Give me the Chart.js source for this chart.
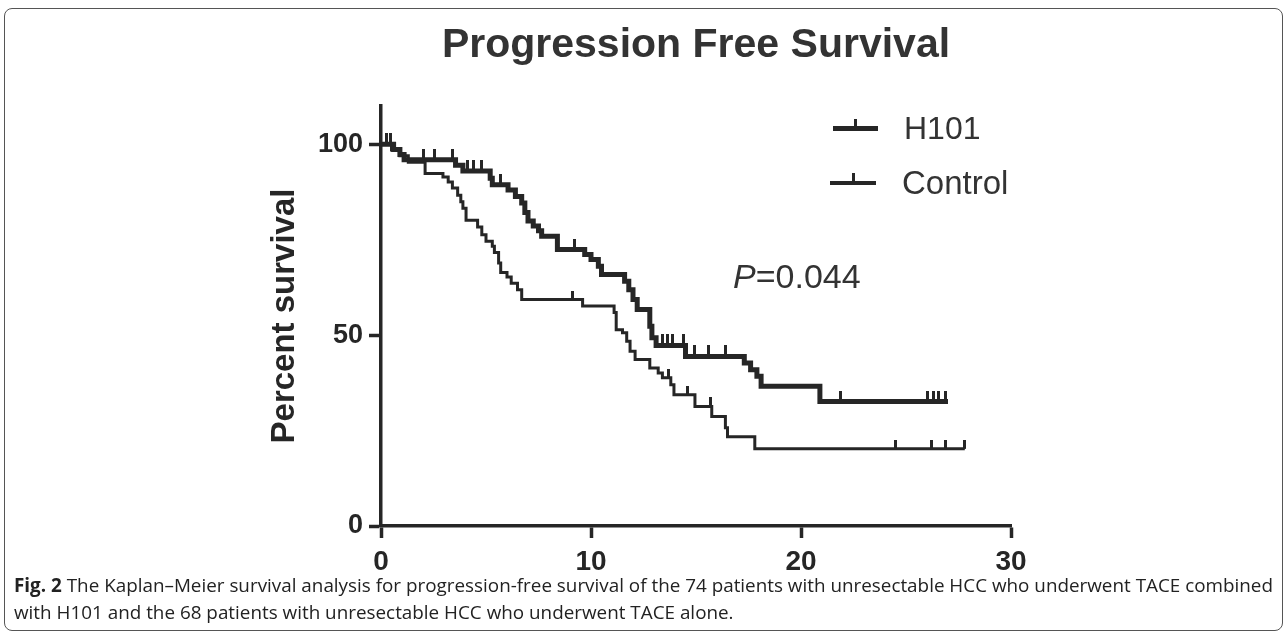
<!DOCTYPE html>
<html>
<head>
<meta charset="utf-8">
<script src="https://cdn.jsdelivr.net/npm/chart.js@4.4.1/dist/chart.umd.min.js"></script>
<style>
  body { margin: 0; width: 1288px; height: 639px; overflow: hidden; position: relative; background: #fff;
         font-family: "Liberation Sans", Arial, sans-serif; color: #262626; }
  #frame { position: absolute; left: 4px; top: 8px; width: 1279px; height: 623px; box-sizing: border-box;
           border: 1.5px solid #555; border-radius: 8px; }
  #plot { position: absolute; left: 0; top: 0; }
  #title { position: absolute; left: 0; top: 23px; width: 1392px; text-align: center;
           font-size: 41px; line-height: 41px; font-weight: bold; color: #333; }
  .lg { position: absolute; background: #262626; }
  .lgtext { position: absolute; font-size: 32px; line-height: 32px; color: #333; }
  #pval { position: absolute; left: 733px; top: 259px; font-size: 34px; line-height: 34px; color: #333; }
  #caption { position: absolute; left: 14px; top: 572px; font-family: "Open Sans", sans-serif;
             font-size: 19px; line-height: 27px; color: #222; white-space: nowrap; }
  #caption div { transform-origin: 0 50%; }
</style>
</head>
<body>
<div id="frame"></div>
<canvas id="plot" width="1288" height="600"></canvas>
<div id="title">Progression Free Survival</div>

<div class="lg" style="left:833px;top:126px;width:45px;height:5px"></div>
<div class="lg" style="left:854px;top:119px;width:3px;height:8px"></div>
<div class="lgtext" style="left:904px;top:112px">H101</div>
<div class="lg" style="left:830px;top:181px;width:46px;height:3.5px"></div>
<div class="lg" style="left:852px;top:173px;width:3px;height:9px"></div>
<div class="lgtext" style="left:902px;top:167px;font-size:33px">Control</div>

<div id="pval"><i>P</i>=0.044</div>

<div id="caption">
  <div id="cap1"><b>Fig. 2</b> The Kaplan–Meier survival analysis for progression-free survival of the 74 patients with unresectable HCC who underwent TACE combined</div>
  <div id="cap2">with H101 and the 68 patients with unresectable HCC who underwent TACE alone.</div>
</div>

<script>
// Kaplan-Meier steps (months, percent surviving after each drop)
const h101Months   = [0, 0.6, 0.9, 1.1, 3.55, 3.9, 5.2, 5.3, 6.05, 6.4, 6.7, 6.85, 7.0, 7.25, 7.5, 7.65,
                      8.4, 9.7, 10.0, 10.35, 10.5, 11.6, 11.8, 12.0, 12.2, 12.8, 12.9, 13.1, 14.5,
                      17.3, 17.6, 17.9, 18.1, 20.9, 27.0];
const h101Survival = [100, 98.6, 97.3, 95.9, 94.5, 93.0, 91.1, 89.4, 88.0, 86.3, 84.6, 82.1, 79.9, 78.6, 77.3, 75.9,
                      72.4, 71.1, 69.8, 68.0, 65.9, 64.1, 61.9, 59.3, 56.7, 52.3, 49.3, 47.3, 44.4,
                      42.7, 40.9, 39.2, 36.6, 32.6, 32.6];
const h101Censored = [0.25, 0.45, 2.0, 2.56, 3.4, 4.1, 4.4, 4.8, 5.7, 6.9, 9.2, 13.4, 13.65, 13.9, 14.4,
                      14.95, 15.6, 16.4, 21.9, 26.0, 26.3, 26.55, 26.9];

const controlMonths   = [0, 0.5, 0.9, 1.3, 2.1, 2.95, 3.2, 3.4, 3.65, 3.8, 3.9, 4.05, 4.6, 4.8, 5.0, 5.3, 5.4,
                         5.6, 5.7, 6.0, 6.2, 6.5, 6.7, 9.6, 11.1, 11.2, 11.5, 11.7, 11.86, 12.1, 12.8, 13.2,
                         13.4, 13.8, 13.95, 14.95, 15.75, 16.4, 16.5, 17.8, 27.8];
const controlSurvival = [100, 98.5, 97.0, 95.3, 92.3, 91.4, 90.1, 88.5, 86.6, 84.9, 83.2, 80.1, 78.3, 76.3, 74.6, 73.3, 71.6,
                         68.9, 66.4, 65.2, 63.6, 61.9, 59.3, 57.6, 55.9, 51.4, 50.6, 48.4, 45.8, 43.6, 41.4, 40.1,
                         38.8, 37.0, 34.4, 31.3, 28.7, 25.7, 23.4, 20.2, 20.2];
const controlCensored = [2.0, 9.1, 13.7, 14.6, 15.7, 24.5, 26.2, 26.9, 27.8];

const xTicks = [0, 10, 20, 30];
const yTicks = [0, 50, 100];

const ink = '#262626';

function stepValue(months, surv, t) {
  let v = surv[0];
  for (let i = 0; i < months.length; i++) {
    if (months[i] <= t) v = surv[i];
  }
  return v;
}

function tickMark(w, h) {
  const c = document.createElement('canvas');
  c.width = w;
  c.height = h * 2;
  const g = c.getContext('2d');
  g.fillStyle = ink;
  g.fillRect(0, 0, w, h);
  return c;
}

const h101Line = h101Months.map((m, i) => ({ x: m, y: h101Survival[i] }));
const controlLine = controlMonths.map((m, i) => ({ x: m, y: controlSurvival[i] }));
const h101Ticks = h101Censored.map(m => ({ x: m, y: stepValue(h101Months, h101Survival, m) }));
const controlTicks = controlCensored.map(m => ({ x: m, y: stepValue(controlMonths, controlSurvival, m) }));

const boldTick = { family: '"Liberation Sans", Arial, sans-serif', weight: 'bold' };

new Chart(document.getElementById('plot').getContext('2d'), {
  type: 'line',
  data: {
    datasets: [
      { label: 'H101', data: h101Line, stepped: 'before', borderColor: ink, borderWidth: 5,
        pointRadius: 0, borderCapStyle: 'butt', borderJoinStyle: 'miter' },
      { label: 'Control', data: controlLine, stepped: 'before', borderColor: ink, borderWidth: 3,
        pointRadius: 0, borderCapStyle: 'butt', borderJoinStyle: 'miter' },
      { label: 'H101 censored', data: h101Ticks, showLine: false, pointRadius: 4,
        pointStyle: tickMark(3, 11) },
      { label: 'Control censored', data: controlTicks, showLine: false, pointRadius: 4,
        pointStyle: tickMark(3, 9) }
    ]
  },
  options: {
    responsive: false,
    devicePixelRatio: 1,
    animation: false,
    layout: { padding: { left: 250, right: 277, top: 106, bottom: 24 } },
    plugins: { legend: { display: false }, tooltip: { enabled: false }, title: { display: false } },
    scales: {
      x: {
        type: 'linear', min: 0, max: 30,
        afterBuildTicks: s => { s.ticks = xTicks.map(v => ({ value: v })); },
        afterFit: s => { s.height = 50; },
        border: { display: true, color: ink, width: 3.5 },
        grid: { drawOnChartArea: false, drawTicks: true, tickLength: 12, tickWidth: 3.5, tickColor: ink },
        ticks: { color: ink, padding: 7, font: { ...boldTick, size: 28 } }
      },
      y: {
        type: 'linear', min: 0, max: 110,
        afterBuildTicks: s => { s.ticks = yTicks.map(v => ({ value: v })); },
        afterFit: s => { s.width = 131; },
        border: { display: true, color: ink, width: 3.5 },
        grid: { drawOnChartArea: false, drawTicks: true, tickLength: 12, tickWidth: 3.5, tickColor: ink },
        ticks: { color: ink, padding: 6, font: { ...boldTick, size: 27 } },
        title: { display: true, text: 'Percent survival', color: ink, padding: { top: 15, bottom: 0 },
                 font: { ...boldTick, size: 33 } }
      }
    }
  }
});

// squeeze caption to the width it has in the figure
const cap1 = document.getElementById('cap1');
const cap2 = document.getElementById('cap2');
const k = 1259 / cap1.scrollWidth;
cap1.style.transform = 'scaleX(' + k + ')';
cap2.style.transform = 'scaleX(' + k + ')';
</script>
</body>
</html>
